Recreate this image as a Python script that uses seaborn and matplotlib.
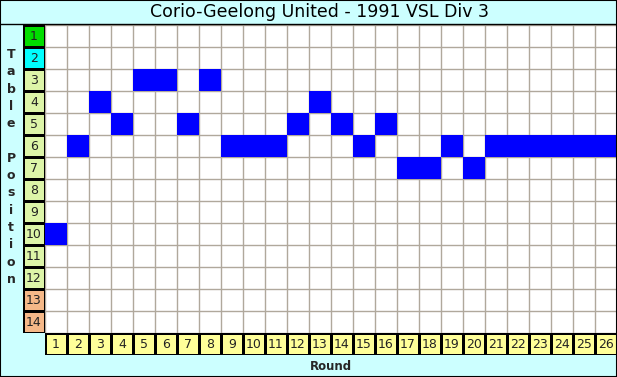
import numpy as np
import pandas as pd
import matplotlib
matplotlib.use("Agg")
import matplotlib.pyplot as plt
from matplotlib.colors import ListedColormap
import seaborn as sns

# data
rounds = list(range(1, 27))
positions = [10, 6, 4, 5, 3, 3, 5, 3, 6, 6, 6, 5, 4, 5, 6, 5, 7, 7, 6, 7, 6, 6, 6, 6, 6, 6]
table_rows = list(range(1, 15))
# colour group of each table position: 0 = champion, 1 = second, 2 = middle, 3 = bottom
row_group = [0, 1, 2, 2, 2, 2, 2, 2, 2, 2, 2, 2, 3, 3]

sns.set_theme(style="white")
plt.rcParams["font.family"] = ["DejaVu Sans"]

bg = "#ccffff"
grid_col = "#b0a89c"

# matrix: 1 where team sat in that position
grid = pd.DataFrame(0, index=table_rows, columns=rounds)
for r, p in zip(rounds, positions):
    grid.loc[p, r] = 1

W, H = 617, 377
fig = plt.figure(figsize=(W / 100, H / 100), dpi=100, facecolor=bg)

# main grid - only the blue cells are drawn, grid lines sit underneath
ax = fig.add_axes([45 / W, 44 / H, 572 / W, 308 / H])
ax.set_facecolor("white")
sns.heatmap(grid, ax=ax, mask=(grid == 0), cmap=ListedColormap(["#0000ff"]), cbar=False,
            linewidths=0, xticklabels=False, yticklabels=False)
ax.set_xticks(np.arange(len(rounds) + 1))
ax.set_yticks(np.arange(len(table_rows) + 1))
ax.tick_params(length=0, labelbottom=False, labelleft=False)
ax.set_axisbelow(True)
ax.grid(True, color=grid_col, lw=1)
for s in ax.spines.values():
    s.set_visible(False)
ax.set_xlabel("")
ax.set_ylabel("")

# left column with table positions
axl = fig.add_axes([23 / W, 44 / H, 22 / W, 308 / H])
left = pd.DataFrame({"g": row_group}, index=table_rows)
sns.heatmap(left, ax=axl, cmap=ListedColormap(["#00dd00", "#00ffff", "#ddf5a8", "#f5b888"]),
            cbar=False, vmin=-0.5, vmax=3.5, linewidths=1, linecolor="black",
            annot=np.array(table_rows).reshape(-1, 1), fmt="d",
            annot_kws={"color": "#222222", "fontsize": 9},
            xticklabels=False, yticklabels=False)
axl.set_xlabel("")
axl.set_ylabel("")

# bottom row with round numbers
axb = fig.add_axes([45 / W, 22 / H, 572 / W, 22 / H])
bottom = pd.DataFrame([[0] * len(rounds)], columns=rounds)
sns.heatmap(bottom, ax=axb, cmap=ListedColormap(["#ffff99"]), cbar=False,
            linewidths=1, linecolor="black",
            annot=np.array(rounds).reshape(1, -1), fmt="d",
            annot_kws={"color": "#222222", "fontsize": 9},
            xticklabels=False, yticklabels=False)
axb.set_xlabel("")
axb.set_ylabel("")

# title bar line and outer frame
fig.add_artist(plt.Line2D([0, 1], [1 - 24 / H, 1 - 24 / H], color="black", lw=1))
fig.add_artist(plt.Rectangle((0, 0), 1, 1, fill=False, edgecolor="black", lw=1.5,
                             transform=fig.transFigure))

fig.text(320 / W, 1 - 12 / H, "Corio-Geelong United - 1991 VSL Div 3",
         ha="center", va="center", fontsize=12.5, color="black")
fig.text(331 / W, 1 - 366 / H, "Round", ha="center", va="center",
         fontsize=8.5, fontweight="bold")
fig.text(11 / W, 1 - 167 / H, "T\na\nb\nl\ne\n\nP\no\ns\ni\nt\ni\no\nn",
         ha="center", va="center", fontsize=9, fontweight="bold",
         linespacing=1.43)

fig.savefig("out.png", dpi=100, facecolor=bg)
